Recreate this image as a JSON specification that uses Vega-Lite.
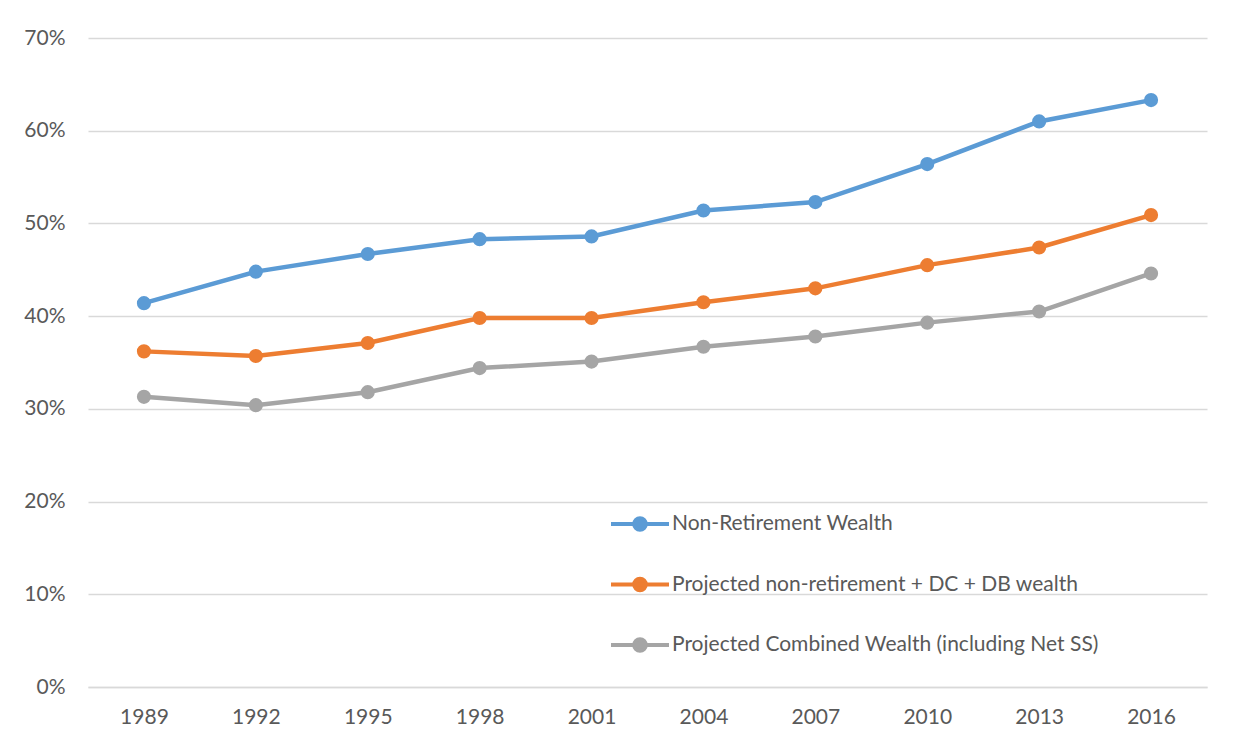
{
  "$schema": "https://vega.github.io/schema/vega-lite/v6.json",
  "width": 1119,
  "height": 649,
  "autosize": "none",
  "padding": {"left": 88, "top": 38, "right": 37, "bottom": 58},
  "background": "white",
  "data": {
    "values": [
      {"year": "1989", "series": "Non-Retirement Wealth", "share": 0.414},
      {"year": "1992", "series": "Non-Retirement Wealth", "share": 0.448},
      {"year": "1995", "series": "Non-Retirement Wealth", "share": 0.467},
      {"year": "1998", "series": "Non-Retirement Wealth", "share": 0.483},
      {"year": "2001", "series": "Non-Retirement Wealth", "share": 0.486},
      {"year": "2004", "series": "Non-Retirement Wealth", "share": 0.514},
      {"year": "2007", "series": "Non-Retirement Wealth", "share": 0.523},
      {"year": "2010", "series": "Non-Retirement Wealth", "share": 0.564},
      {"year": "2013", "series": "Non-Retirement Wealth", "share": 0.610},
      {"year": "2016", "series": "Non-Retirement Wealth", "share": 0.633},
      {"year": "1989", "series": "Projected non-retirement + DC + DB wealth", "share": 0.362},
      {"year": "1992", "series": "Projected non-retirement + DC + DB wealth", "share": 0.357},
      {"year": "1995", "series": "Projected non-retirement + DC + DB wealth", "share": 0.371},
      {"year": "1998", "series": "Projected non-retirement + DC + DB wealth", "share": 0.398},
      {"year": "2001", "series": "Projected non-retirement + DC + DB wealth", "share": 0.398},
      {"year": "2004", "series": "Projected non-retirement + DC + DB wealth", "share": 0.415},
      {"year": "2007", "series": "Projected non-retirement + DC + DB wealth", "share": 0.430},
      {"year": "2010", "series": "Projected non-retirement + DC + DB wealth", "share": 0.455},
      {"year": "2013", "series": "Projected non-retirement + DC + DB wealth", "share": 0.474},
      {"year": "2016", "series": "Projected non-retirement + DC + DB wealth", "share": 0.509},
      {"year": "1989", "series": "Projected Combined Wealth (including Net SS)", "share": 0.313},
      {"year": "1992", "series": "Projected Combined Wealth (including Net SS)", "share": 0.304},
      {"year": "1995", "series": "Projected Combined Wealth (including Net SS)", "share": 0.318},
      {"year": "1998", "series": "Projected Combined Wealth (including Net SS)", "share": 0.344},
      {"year": "2001", "series": "Projected Combined Wealth (including Net SS)", "share": 0.351},
      {"year": "2004", "series": "Projected Combined Wealth (including Net SS)", "share": 0.367},
      {"year": "2007", "series": "Projected Combined Wealth (including Net SS)", "share": 0.378},
      {"year": "2010", "series": "Projected Combined Wealth (including Net SS)", "share": 0.393},
      {"year": "2013", "series": "Projected Combined Wealth (including Net SS)", "share": 0.405},
      {"year": "2016", "series": "Projected Combined Wealth (including Net SS)", "share": 0.446}
    ]
  },
  "encoding": {
    "x": {
      "field": "year",
      "type": "ordinal",
      "scale": {"type": "point", "padding": 0.5},
      "axis": {
        "title": null,
        "labelAngle": 0,
        "ticks": false,
        "grid": false,
        "domainColor": "#d9d9d9",
        "domainWidth": 1.5,
        "labelPadding": 19
      }
    },
    "y": {
      "field": "share",
      "type": "quantitative",
      "scale": {"domain": [0, 0.7], "nice": false},
      "axis": {
        "title": null,
        "format": ".0%",
        "values": [0, 0.1, 0.2, 0.3, 0.4, 0.5, 0.6, 0.7],
        "domain": false,
        "ticks": false,
        "gridColor": "#d9d9d9",
        "gridWidth": 1.5,
        "labelPadding": 23
      }
    },
    "color": {
      "field": "series",
      "type": "nominal",
      "scale": {
        "domain": [
          "Non-Retirement Wealth",
          "Projected non-retirement + DC + DB wealth",
          "Projected Combined Wealth (including Net SS)"
        ],
        "range": ["#5b9bd5", "#ed7d31", "#a5a5a5"]
      },
      "legend": {
        "title": null,
        "orient": "none",
        "legendX": 521,
        "legendY": 455,
        "padding": 0,
        "symbolType": "M-1,0L1,0M-0.2,0A0.2,0.2,0,1,0,0.2,0A0.2,0.2,0,1,0,-0.2,0Z",
        "symbolSize": 3364,
        "symbolStrokeWidth": 4,
        "labelOffset": 1,
        "rowPadding": 15.5,
        "labelFontSize": 21,
        "labelFont": "Lato",
        "labelColor": "#595959",
        "labelLimit": 600,
        "encode": {
          "symbols": {
            "update": {
              "fill": {"scale": "color", "field": "value"},
              "stroke": {"scale": "color", "field": "value"},
              "opacity": {"value": 1}
            }
          }
        }
      }
    }
  },
  "layer": [
    {"mark": {"type": "line", "strokeWidth": 4.5}},
    {"mark": {"type": "circle", "size": 200, "opacity": 1}}
  ],
  "config": {
    "view": {"stroke": null},
    "axis": {
      "labelFont": "Lato",
      "labelFontSize": 21,
      "labelColor": "#595959"
    }
  }
}
